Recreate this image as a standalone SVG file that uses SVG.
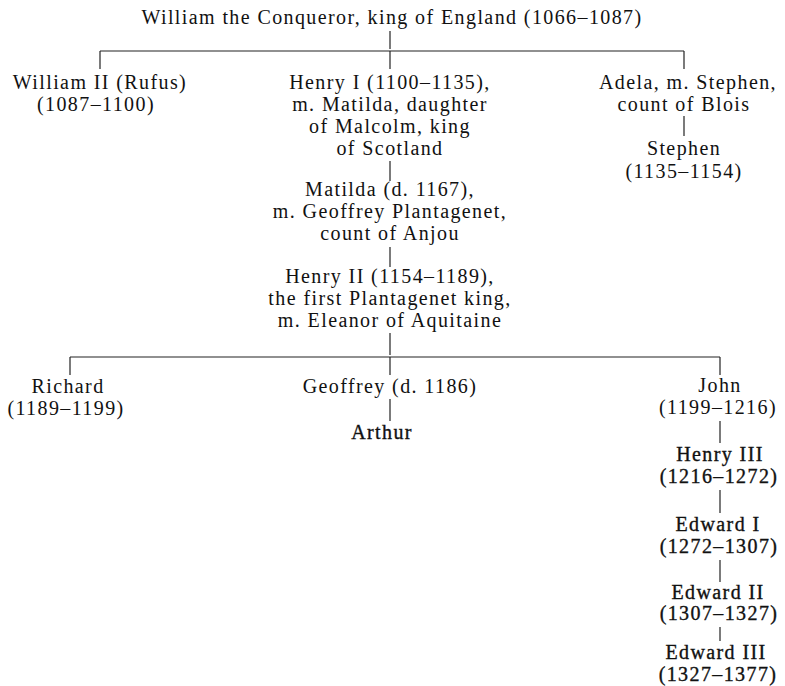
<svg xmlns="http://www.w3.org/2000/svg" width="785" height="686" viewBox="0 0 785 686">
<style>
text{font-family:"Liberation Serif","Times New Roman",serif;font-size:20px;fill:#111;text-anchor:middle;letter-spacing:1.4px}
.h{stroke:#111;stroke-width:0.35px}
.c line{stroke:#222;stroke-width:1.2}
</style>
<rect width="785" height="686" fill="#fff"/>
<g class="c" id="connectors">
<line x1="390" y1="31" x2="390" y2="49"/>
<line x1="100" y1="51" x2="684" y2="51"/>
<line x1="100" y1="51" x2="100" y2="69"/>
<line x1="390" y1="51" x2="390" y2="69"/>
<line x1="684" y1="51" x2="684" y2="69"/>
<line x1="684" y1="116" x2="684" y2="136"/>
<line x1="390" y1="161" x2="390" y2="181"/>
<line x1="390" y1="247" x2="390" y2="267"/>
<line x1="390" y1="333" x2="390" y2="355"/>
<line x1="70" y1="357" x2="720" y2="357"/>
<line x1="70" y1="357" x2="70" y2="375"/>
<line x1="390" y1="357" x2="390" y2="375"/>
<line x1="720" y1="357" x2="720" y2="375"/>
<line x1="390" y1="399" x2="390" y2="421"/>
<line x1="720" y1="421" x2="720" y2="443"/>
<line x1="720" y1="490" x2="720" y2="513"/>
<line x1="720" y1="560" x2="720" y2="582"/>
<line x1="720" y1="627" x2="720" y2="641"/>
</g>
<g id="william-conqueror"><text x="392" y="24">William the Conqueror, king of England (1066–1087)</text></g>
<g id="william-ii"><text x="100" y="89">William II (Rufus)</text><text x="96" y="111">(1087–1100)</text></g>
<g id="henry-i"><text x="390" y="89">Henry I (1100–1135),</text><text x="390" y="111">m. Matilda, daughter</text><text x="390" y="133">of Malcolm, king</text><text x="390" y="155">of Scotland</text></g>
<g id="adela"><text x="688" y="89">Adela, m. Stephen,</text><text x="684" y="111">count of Blois</text></g>
<g id="stephen"><text x="684" y="155">Stephen</text><text x="684" y="178">(1135–1154)</text></g>
<g id="matilda"><text x="390" y="196">Matilda (d. 1167),</text><text x="390" y="218">m. Geoffrey Plantagenet,</text><text x="390" y="240">count of Anjou</text></g>
<g id="henry-ii"><text x="390" y="283">Henry II (1154–1189),</text><text x="390" y="305">the first Plantagenet king,</text><text x="390" y="327">m. Eleanor of Aquitaine</text></g>
<g id="richard"><text x="68" y="393">Richard</text><text x="66" y="415">(1189–1199)</text></g>
<g id="geoffrey"><text x="390" y="393">Geoffrey (d. 1186)</text></g>
<g id="arthur"><text class="h" x="382" y="439">Arthur</text></g>
<g id="john"><text x="720" y="392">John</text><text x="718" y="414">(1199–1216)</text></g>
<g id="henry-iii"><text class="h" x="720" y="461">Henry III</text><text class="h" x="719" y="483">(1216–1272)</text></g>
<g id="edward-i"><text class="h" x="718" y="531">Edward I</text><text class="h" x="719" y="553">(1272–1307)</text></g>
<g id="edward-ii"><text class="h" x="718" y="599">Edward II</text><text class="h" x="719" y="620">(1307–1327)</text></g>
<g id="edward-iii"><text class="h" x="716" y="659">Edward III</text><text class="h" x="718" y="681">(1327–1377)</text></g>
</svg>
